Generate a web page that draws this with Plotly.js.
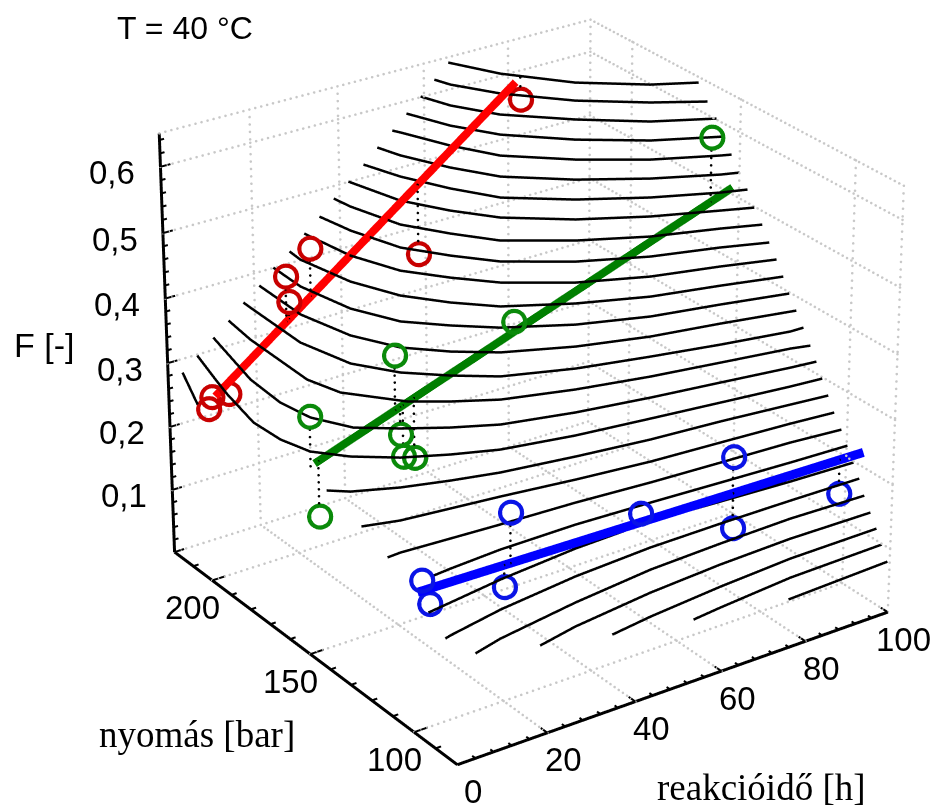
<!DOCTYPE html><html><head><meta charset="utf-8">
<script src="https://cdn.plot.ly/plotly-3.0.1.min.js"></script>
<style>html,body{margin:0;padding:0;overflow:hidden;width:934px;height:805px;background:#fff}
#plot{position:absolute;left:-23px;top:-1625px}
</style></head><body><div id="plot"></div>
<script>
var timeTicks=[0,20,40,60,80,100];
var pressureTicks=[100,150,200];
var fTicks=[0.1,0.2,0.3,0.4,0.5,0.6];
var timeRange=[0,100],pressureRange=[80,220],fRange=[0,0.65];
var contourLevels=[.634,.615,.596,.577,.557,.538,.519,.500,.481,.462,.442,.423,.404,.385,.366,.347,.328,.308,.289,.270,.251,.232,.213,.194,.174,.155,.136,.117,.098,.079];
var contourT=[
[67.2,72.4,81.8,93.2,101.5],
[63.6,64.8,70.3,80.2,91.6,101.0],
[60.1,62.4,67.8,78.4,89.7,101.1],
[56.5,60.2,65.7,76.2,87.9,100.6],
[53.1,53.9,58.3,63.5,74.3,86.2,98.5,100.5],
[49.4,51.0,55.7,61.2,72.2,84.4,96.6,100.2],
[45.9,48.6,53.4,58.9,70.2,82.6,95.0,100.2],
[42.2,45.5,50.8,56.9,68.2,80.8,93.5,99.7],
[38.6,39.2,42.5,48.1,54.1,65.9,78.7,92.0,99.7],
[34.8,36.2,39.8,45.6,51.9,63.6,76.7,90.2,99.3],
[31.3,33.1,37.2,43.3,49.9,61.6,74.9,88.6,99.4],
[27.5,27.2,29.7,34.1,40.2,47.0,59.4,72.9,86.8,99.2],
[23.9,23.6,26.1,30.8,37.6,44.8,57.2,71.0,85.1,98.9],
[20.2,19.8,22.6,27.5,34.3,41.8,54.9,69.0,83.4,98.8],
[16.5,16.4,16.0,18.9,24.5,31.5,39.0,52.5,67.1,81.1,95.6,98.7],
[12.7,11.7,11.3,13.5,21.7,28.3,36.4,50.4,65.2,79.7,94.4,98.3],
[9.1,5.3,4.7,6.0,10.3,17.3,25.1,33.5,47.9,63.1,77.8,92.6,98.3],
[5.3,2.7,1.2,-1.0,-0.6,1.3,6.3,13.7,22.0,30.7,45.5,61.2,76.0,91.1,98.2],
[1.8,-3.0],
[0.7,4.1,12.6,21.7,31.2,46.5,62.2,77.6,92.9,101.3],
[0.9,8.1,18.3,28.6,44.0,59.8,75.4,91.2,101.0],
[0.9,3.9,14.4,25.1,41.5,57.8,73.5,89.5,100.9],
[6.1,10.6,22.3,39.3,56.0,71.6,87.6,100.9],
[0.7,6.1,18.5,36.7,54.4,70.0,85.9,100.7],
[0.6,2.0,14.9,33.4,51.4,67.9,84.4,100.8],
[4.6,11.4,30.4,49.2,66.1,83.0,100.4],
[18.5,27.9,46.8,64.0,81.1,100.2],
[34.4,44.2,61.8,79.3,100.2],
[52.9,59.8,77.7,100.1],
[75.1,99.8]];
var contourP=[
[223.0,208.2,191.2,178.3,171.9],
[222.4,216.9,203.8,188.0,175.2,166.8],
[221.9,211.9,198.9,184.3,171.5,162.8],
[221.4,207.5,194.5,180.0,167.8,158.6],
[221.3,218.9,203.5,190.1,176.2,164.5,155.8,154.6],
[221.0,212.8,198.1,185.3,172.0,160.9,152.2,150.3],
[220.5,207.9,193.4,180.6,167.9,157.4,149.2,146.6],
[220.2,201.4,188.1,176.5,163.9,153.9,146.2,142.5],
[219.9,212.8,195.0,182.3,170.9,159.3,149.9,143.2,138.8],
[218.9,206.3,189.2,177.2,166.4,154.8,145.9,139.8,134.8],
[219.1,199.8,183.9,172.5,162.2,150.7,142.3,136.7,131.6],
[218.3,212.1,192.4,177.3,166.0,156.3,146.4,138.4,133.2,128.1],
[218.7,204.2,184.7,170.3,160.6,151.9,142.0,134.6,129.9,124.8],
[217.8,195.8,177.2,163.4,153.7,145.7,137.2,130.8,126.5,121.3],
[217.8,214.0,187.7,169.2,157.1,148.0,140.0,132.5,127.0,122.2,117.9,117.8],
[217.0,203.5,174.0,162.4,147.9,141.4,134.8,128.4,123.3,119.4,115.5,113.9],
[216.9,189.1,172.8,160.8,149.4,141.9,134.9,128.8,123.3,119.1,115.7,112.2,111.1],
[216.7,201.2,191.7,173.5,161.0,150.7,142.3,134.3,128.3,123.2,118.6,115.3,112.3,109.3,108.2],
[216.5,197.5],
[141.7,137.6,132.1,127.9,124.2,120.4,117.1,115.0,112.3,110.8],
[125.6,122.6,120.7,118.8,115.4,112.5,110.8,109.0,107.5],
[113.4,113.7,112.7,111.7,110.5,108.5,107.1,105.8,104.0],
[104.1,104.8,106.0,106.1,104.9,103.5,102.1,101.2],
[94.2,95.4,98.2,100.9,101.9,100.4,98.9,98.0],
[86.3,86.9,90.8,94.3,96.0,96.2,96.0,95.5],
[81.0,83.7,88.3,91.6,92.7,93.3,92.4],
[80.3,83.3,86.9,88.8,89.7,89.2],
[79.7,81.8,84.4,86.2,86.4],
[79.4,80.6,83.1,83.8],
[79.1,80.6]];
var redT=[73.1,48.9,24.0,18.4,19.0,0.4,1.2,5.0],redF=[.608,.414,.470,.438,.398,.270,.287,.284];
var greenT=[93.1,46.9,19.9,1.0,2.7,21.0,21.6,24.1],greenF=[.605,.413,.416,.363,.208,.294,.259,.252];
var blueT=[72.7,72.8,98.4,51.1,21.6,20.2,2.0,3.7],blueF=[.258,.148,.146,.218,.284,.175,.226,.187];
var redLineT=[2.0,72.0],redLineF=[.286,.636];
var greenLineT=[1.9,98.4],greenLineF=[.290,.519];
var blueLineT=[1.1,104.2],blueLineF=[.210,.198];
var redP=200,greenP=150,blueP=100;

var W=1100,H=4000,LEFT=-23,TOP=-1625,D=7,phi=.6082,el=.4572;
var traces=[];
function seg(a,x,y,z){a.x.push(x[0],x[1],null);a.y.push(y[0],y[1],null);a.z.push(z[0],z[1],null);}
function lineTrace(a,color,width){return {type:'scatter3d',mode:'lines',x:a.x,y:a.y,z:a.z,connectgaps:false,hoverinfo:'skip',line:{color:color,width:width}};}
// a dotted rule is a row of small markers between two points of the scene
function dots(a,A,B,n){for(var k=0;k<=n;k++){var u=k/n;a.x.push(A[0]+(B[0]-A[0])*u);a.y.push(A[1]+(B[1]-A[1])*u);a.z.push(A[2]+(B[2]-A[2])*u);}}
function dotTrace(a,color,size){return {type:'scatter3d',mode:'markers',x:a.x,y:a.y,z:a.z,hoverinfo:'skip',marker:{symbol:'circle',size:size,color:color,line:{width:0}}};}
var t0=timeRange[0],t1=timeRange[1],p0=pressureRange[0],p1=pressureRange[1],f0=fRange[0],f1=fRange[1];
var g={x:[],y:[],z:[]},nT=75,nP=75,nF=58;
timeTicks.forEach(function(t){if(t!==t0)dots(g,[t,p0,f0],[t,p1,f0],nP);if(t!==t0)dots(g,[t,p1,f0],[t,p1,f1],nF);});
pressureTicks.forEach(function(p){dots(g,[t0,p,f0],[t1,p,f0],nT);dots(g,[t1,p,f0],[t1,p,f1],nF);});
fTicks.forEach(function(f){dots(g,[t0,p1,f],[t1,p1,f],nT);dots(g,[t1,p0,f],[t1,p1,f],nP);});
dots(g,[t0,p1,f1],[t1,p1,f1],nT);dots(g,[t1,p0,f1],[t1,p1,f1],nP);dots(g,[t1,p0,f0],[t1,p0,f1],nF);dots(g,[t0,p1,f0],[t1,p1,f0],nT);
traces.push(dotTrace(g,'#c8c8c8',1.5));
contourT.forEach(function(tt,i){traces.push({type:'scatter3d',mode:'lines',x:tt,y:contourP[i],z:tt.map(function(){return contourLevels[i];}),hoverinfo:'skip',line:{color:'#000',width:5}});});
var ax={x:[],y:[],z:[]};seg(ax,[t0,t1],[p0,p0],[f0,f0]);seg(ax,[t0,t0],[p0,p1],[f0,f0]);seg(ax,[t0,t0],[p1,p1],[f0,f1]);
traces.push(lineTrace(ax,'#000',6));
var tk={x:[],y:[],z:[]},i,v;
for(v=0;v<=100;v+=4){var mj=timeTicks.indexOf(v)>=0;seg(tk,[v,v],[p0,p0+(mj?3:1.5)],[f0,f0]);}
for(v=80;v<=220;v+=10){var mj2=pressureTicks.indexOf(v)>=0;seg(tk,[t0,t0+(mj2?3:1.2)],[v,v],[f0,f0]);}
for(i=0;i<=32;i++){v=i*0.02;var mj3=i%5===0;seg(tk,[t0,t0+(mj3?2.2:1)],[p1,p1],[v,v]);}
traces.push(lineTrace(tk,'#000',4));
function series(T,F,P,LT,LF,lineColor,ringColor,lw){
  var d={x:[],y:[],z:[]},gap=.02;
  T.forEach(function(t,k){var lf=LF[0]+(LF[1]-LF[0])*(t-LT[0])/(LT[1]-LT[0]);var dist=Math.abs(lf-F[k]);if(dist<=gap)return;
    var s=lf>F[k]?1:-1;dots(d,[t,P,F[k]+s*gap],[t,P,lf],Math.max(1,Math.round((dist-gap)/.011)));});
  traces.push(dotTrace(d,'#000',1.5));
  traces.push({type:'scatter3d',mode:'lines',x:LT,y:LT.map(function(){return P;}),z:LF,hoverinfo:'skip',line:{color:lineColor,width:lw}});
  [13,13.8,14.6].forEach(function(sz){traces.push({type:'scatter3d',mode:'markers',x:T,y:T.map(function(){return P;}),z:F,hoverinfo:'skip',marker:{symbol:'circle-open',size:sz,color:ringColor,line:{color:ringColor,width:4}}});});
}
series(redT,redF,redP,redLineT,redLineF,'#ff0000','#c80000',16);
series(greenT,greenF,greenP,greenLineT,greenLineF,'#007f00','#0a8a0a',16);
series(blueT,blueF,blueP,blueLineT,blueLineF,'#0000ff','#0a14e6',18);

var sans='Liberation Sans, Arial, sans-serif',serif='Liberation Serif, Times New Roman, serif';
var sa=[];
function lab(x,y,z,text,dx,dy){sa.push({x:x,y:y,z:z,text:text,showarrow:false,xanchor:'center',yanchor:'middle',xshift:dx,yshift:-dy,font:{family:sans,size:33,color:'#000'}});}
timeTicks.forEach(function(t){lab(t,p0,f0,String(t),16,27);});
pressureTicks.forEach(function(p){lab(t0,p,f0,String(p),-20,27);});
fTicks.forEach(function(f){lab(t0,p1,f,f.toFixed(1).replace('.',','),-48,6);});
function px(x){return (x-LEFT)/W;} function py(y){return 1-(y-TOP)/H;}
function note(x,y,text,fam,size){return {xref:'paper',yref:'paper',x:px(x),y:py(y),text:text,showarrow:false,xanchor:'center',yanchor:'middle',font:{family:fam,size:size,color:'#000'}};}
function rng(a,m){var c=(a[0]+a[1])/2,h=(a[1]-a[0])/2*m;return [c-h,c+h];}
var mt=1.1,mp=150/140,mf=.69/.65;
function hid(r){return {range:r,visible:false,showgrid:false,showbackground:false,zeroline:false,showticklabels:false,showspikes:false,showline:false,ticks:''};}
Plotly.newPlot('plot',traces,{width:W,height:H,margin:{l:0,r:0,t:0,b:0},showlegend:false,paper_bgcolor:'#fff',
 annotations:[note(185,28,'T = 40 °C',sans,32),note(44,345,'F [-]',sans,34),note(197,734,'nyomás [bar]',serif,37),note(761,787,'reakcióidő [h]',serif,37)],
 scene:{domain:{x:[0,1],y:[0,1]},bgcolor:'#fff',aspectmode:'manual',aspectratio:{x:.7608*mt,y:.7555*mp,z:.6824*mf},
 camera:{eye:{x:-D*Math.sin(phi)*Math.cos(el),y:-D*Math.cos(phi)*Math.cos(el),z:D*Math.sin(el)},center:{x:0,y:0,z:0},up:{x:0,y:0,z:1}},
 xaxis:hid(rng(timeRange,mt)),yaxis:hid(rng(pressureRange,mp)),zaxis:hid(rng(fRange,mf)),annotations:sa}},{displayModeBar:false});
</script></body></html>
